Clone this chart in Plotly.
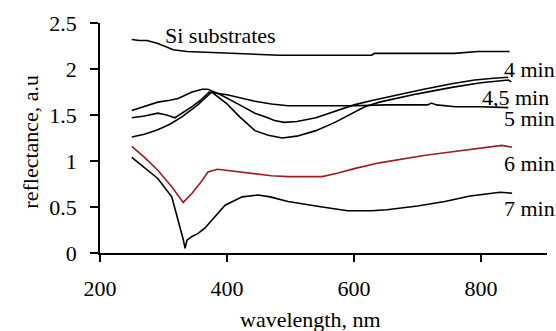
import plotly.graph_objects as go

# ---- data ----
si_wl = [250, 262, 274, 290, 305, 315, 337, 368, 410, 440, 468, 483, 520, 560, 600, 628, 632, 700, 752, 758, 795, 800, 845]
si_y = [2.32, 2.31, 2.31, 2.28, 2.24, 2.21, 2.19, 2.18, 2.17, 2.16, 2.15, 2.15, 2.15, 2.15, 2.15, 2.15, 2.17, 2.17, 2.17, 2.17, 2.19, 2.19, 2.19]

m4_wl = [250, 270, 291, 310, 323, 345, 361, 370, 390, 420, 444, 460, 475, 490, 510, 540, 570, 600, 630, 650, 680, 710, 754, 790, 820, 843]
m4_y = [1.55, 1.59, 1.64, 1.66, 1.68, 1.75, 1.78, 1.78, 1.72, 1.61, 1.52, 1.48, 1.44, 1.42, 1.43, 1.47, 1.54, 1.61, 1.66, 1.69, 1.74, 1.78, 1.84, 1.88, 1.90, 1.91]

m45_wl = [250, 270, 291, 305, 318, 330, 345, 360, 372, 400, 444, 470, 496, 550, 600, 650, 700, 716, 722, 730, 760, 800, 843]
m45_y = [1.47, 1.49, 1.52, 1.50, 1.47, 1.52, 1.59, 1.67, 1.75, 1.72, 1.65, 1.62, 1.60, 1.60, 1.60, 1.61, 1.61, 1.61, 1.63, 1.61, 1.59, 1.59, 1.58]

m5_wl = [250, 270, 291, 310, 329, 354, 376, 400, 420, 444, 465, 487, 510, 540, 570, 600, 617, 640, 665, 700, 754, 800, 843, 848]
m5_y = [1.26, 1.29, 1.34, 1.40, 1.48, 1.61, 1.75, 1.62, 1.48, 1.33, 1.28, 1.25, 1.27, 1.33, 1.42, 1.53, 1.59, 1.64, 1.68, 1.73, 1.80, 1.85, 1.88, 1.86]

m6_wl = [250, 270, 291, 313, 331, 345, 360, 370, 385, 397, 420, 449, 470, 496, 520, 550, 575, 602, 640, 680, 710, 743, 780, 810, 833, 849]
m6_y = [1.16, 1.04, 0.90, 0.72, 0.55, 0.65, 0.78, 0.88, 0.91, 0.90, 0.88, 0.86, 0.84, 0.83, 0.83, 0.83, 0.87, 0.92, 0.98, 1.03, 1.06, 1.09, 1.12, 1.15, 1.17, 1.15]

m7_wl = [250, 270, 291, 313, 323, 328, 331, 334, 337, 345, 354, 365, 376, 397, 424, 449, 468, 496, 550, 590, 628, 652, 700, 743, 783, 810, 830, 849]
m7_y = [1.04, 0.93, 0.81, 0.61, 0.36, 0.23, 0.15, 0.05, 0.14, 0.18, 0.21, 0.27, 0.36, 0.52, 0.61, 0.63, 0.61, 0.56, 0.50, 0.46, 0.46, 0.47, 0.51, 0.56, 0.62, 0.64, 0.66, 0.65]

x_ticks = [200, 400, 600, 800]
y_ticks = [0, 0.5, 1, 1.5, 2, 2.5]
y_tick_labels = ["0", "0.5", "1", "1.5", "2", "2.5"]

labels = ["Si substrates", "4 min", "4,5 min", "5 min", "6 min", "7 min"]
label_x = [299, 833, 798, 833, 833, 833]
label_y = [2.36, 1.99, 1.685, 1.467, 0.978, 0.489]

FONT = "Liberation Serif"

series = [
    (si_wl, si_y, "black"),
    (m4_wl, m4_y, "black"),
    (m45_wl, m45_y, "black"),
    (m5_wl, m5_y, "black"),
    (m6_wl, m6_y, "#9e1f22"),
    (m7_wl, m7_y, "black"),
]

fig = go.Figure()
for wl, yv, col in series:
    fig.add_trace(go.Scatter(x=wl, y=yv, mode="lines",
                             line=dict(color=col, width=1.6), showlegend=False,
                             hoverinfo="skip"))

for t, lx, ly in zip(labels, label_x, label_y):
    fig.add_annotation(x=lx, y=ly, text=t, showarrow=False, xanchor="left",
                       yanchor="middle", font=dict(family=FONT, size=22, color="black"))

fig.add_annotation(x=0.47, y=-0.29, xref="paper", yref="paper", text="wavelength, nm",
                   showarrow=False, xanchor="center", yanchor="middle",
                   font=dict(family=FONT, size=22, color="black"))
fig.add_annotation(x=-0.155, y=0.483, xref="paper", yref="paper", text="reflectance, a.u",
                   showarrow=False, xanchor="center", yanchor="middle", textangle=-90,
                   font=dict(family=FONT, size=22, color="black"))

fig.update_layout(
    width=556, height=331,
    margin=dict(l=100, r=9, t=23, b=78),
    paper_bgcolor="white", plot_bgcolor="white",
    font=dict(family=FONT, size=22, color="black"),
)
fig.update_xaxes(range=[200, 904], tickvals=x_ticks, showgrid=False, zeroline=False,
                 showline=True, linecolor="black", linewidth=1.5,
                 ticks="outside", ticklen=7, tickwidth=1.5, tickcolor="black",
                 ticklabelstandoff=8, tickfont=dict(family=FONT, size=22, color="black"))
fig.update_yaxes(range=[0, 2.5], tickvals=y_ticks, ticktext=y_tick_labels,
                 showgrid=False, zeroline=False,
                 showline=True, linecolor="black", linewidth=1.5,
                 ticks="outside", ticklen=8, tickwidth=1.5, tickcolor="black",
                 ticklabelstandoff=9, tickfont=dict(family=FONT, size=22, color="black"))

fig.write_html("out.html", config={"displayModeBar": False},
               post_script="document.body.style.margin='0';")
